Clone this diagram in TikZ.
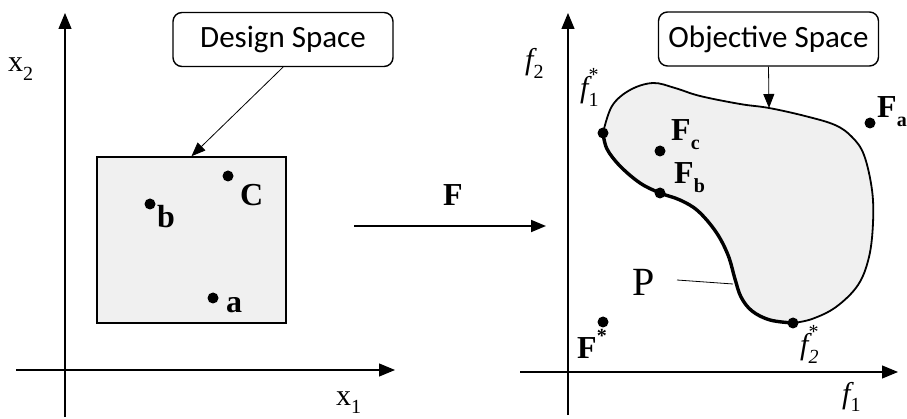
\documentclass[tikz,border=0pt]{standalone}
\usepackage{fontspec}
\setmainfont{Liberation Serif}
\newfontfamily\boxfont{Carlito}
\usetikzlibrary{arrows.meta}
\definecolor{regionfill}{HTML}{F0F0F0}
\newcommand\lowsub[1]{\raisebox{-0.28em}{\fontsize{20}{20}\selectfont #1}}
\newcommand\highsup[1]{\raisebox{0.5em}{\fontsize{20}{20}\selectfont #1}}
\newcommand\bothsub[2]{\rlap{\raisebox{-0.3em}{\fontsize{20}{20}\selectfont #1}}\raisebox{0.55em}{\fontsize{20}{20}\selectfont #2}}
\begin{document}
\begin{tikzpicture}[x=1pt,y=-1pt,
  axis/.style={line width=1.2pt,-{Triangle[length=16pt,width=13pt]}},
  callout/.style={draw,line width=1.4pt,rounded corners=9pt,minimum width=220pt,minimum height=54pt,
    font=\boxfont\fontsize{31}{32}\selectfont,inner sep=0pt},
  pin/.style={line width=0.8pt,-{Triangle[length=14pt,width=11pt]}},
  dot/.style={circle,fill=black,inner sep=0pt,minimum size=11pt},
  lbl/.style={font=\fontsize{32}{34}\selectfont\bfseries,inner sep=0pt},
  axl/.style={font=\fontsize{30}{32}\selectfont,inner sep=0pt},
  fl/.style={font=\fontsize{30}{32}\selectfont\itshape,inner sep=0pt},
  region/.style={fill=regionfill}]

\useasboundingbox (0,0) rectangle (907,419);

% ---------- left panel ----------
\coordinate (ly0) at (65,417);
\coordinate (ly1) at (65,13);
\coordinate (lx0) at (16,370);
\coordinate (lx1) at (395,370);
\draw[axis] (ly0) -- (ly1);
\draw[axis] (lx0) -- (lx1);
\node[axl,anchor=base west] (x2) at (8,72) {x\lowsub{2}};
\node[axl,anchor=base west] (x1) at (336,405) {x\lowsub{1}};

\node[draw,line width=1.6pt,region,minimum width=189pt,minimum height=166pt,inner sep=0pt] (dspace) at (191.5,240) {};
\node[callout] (ds) at (283,39.5) {Design Space};
\draw[pin] (ds.south) -- (dspace.north);

\node[dot] (pb) at (150,204) {};
\node[dot] (pc) at (228,176) {};
\node[dot] (pa) at (213,298) {};
\node[lbl,anchor=base west] (lb) at (157,228) {b};
\node[lbl,anchor=base west] (lc) at (240,206) {C};
\node[lbl,anchor=base west] (la) at (226,313) {a};

% ---------- mapping arrow ----------
\coordinate (m0) at (354,226);
\coordinate (m1) at (546,226);
\draw[line width=1.8pt,-{Triangle[length=15pt,width=12pt]}] (m0) -- (m1);
\node[lbl,anchor=base] (lF) at (453,206) {F};

% ---------- right panel ----------
\coordinate (ry0) at (568,415);
\coordinate (ry1) at (568,13);
\coordinate (rx0) at (520,372);
\coordinate (rx1) at (898,372);
\draw[axis] (ry0) -- (ry1);
\draw[axis] (rx0) -- (rx1);
\node[fl,anchor=base west] (f2) at (525,70) {f\lowsub{\upshape 2}};
\node[fl,anchor=base west] (f1) at (842,403) {f\lowsub{\upshape 1}};

% objective region
\fill[region] plot[smooth,tension=0.6] coordinates {(603,133) (612,106) (630,90) (653,83) (675,88) (700,96) (740,104) (769,108) (805,116) (835,125) (852,137) (864,155) (872,190) (873,223) (869,257) (858,285) (836,307) (812,319) (793,323)}
  -- plot[smooth,tension=0.6] coordinates {(793,323) (770,320) (752,311) (741,297) (735,279) (728,255) (716,232) (698,211) (680,200) (660,193) (640,183) (620,166) (607,149) (603,133)} -- cycle;
\draw[line width=1.8pt] plot[smooth,tension=0.6] coordinates {(603,133) (612,106) (630,90) (653,83) (675,88) (700,96) (740,104) (769,108) (805,116) (835,125) (852,137) (864,155) (872,190) (873,223) (869,257) (858,285) (836,307) (812,319) (793,323)};
\draw[line width=3.4pt] plot[smooth,tension=0.6] coordinates {(793,323) (770,320) (752,311) (741,297) (735,279) (728,255) (716,232) (698,211) (680,200) (660,193) (640,183) (620,166) (607,149) (603,133)};

\coordinate (osTop) at (769,108);
\node[callout] (os) at (768.5,39) {Objective Space};
\draw[pin] (os.south) -- (osTop);

\node[dot] (pf1) at (603,133) {};
\node[dot] (pfc) at (660,151) {};
\node[dot] (pfb) at (660,193) {};
\node[dot] (pfa) at (870,123) {};
\node[dot] (pf2) at (793,323) {};
\node[dot] (pfs) at (603,322) {};

\node[fl,anchor=base west] (lf1s) at (580,98) {f\bothsub{\upshape 1}{\upshape *}};
\node[fl,anchor=base west] (lf2s) at (800,355) {f\bothsub{2}{\upshape *}};
\node[lbl,anchor=base west] (lfa) at (877,118) {F\lowsub{a}};
\node[lbl,anchor=base west] (lfc) at (671,141) {F\lowsub{c}};
\node[lbl,anchor=base west] (lfb) at (674,184) {F\lowsub{b}};
\node[lbl,anchor=base west] (lfs) at (577,359) {F\highsup{*}};

\node[font=\fontsize{40}{42}\selectfont,inner sep=0pt,anchor=base] (lP) at (644,296) {P};
\coordinate (pTouch) at (733,284);
\draw[line width=0.8pt] (677,280) -- (pTouch);
\end{tikzpicture}
\end{document}
